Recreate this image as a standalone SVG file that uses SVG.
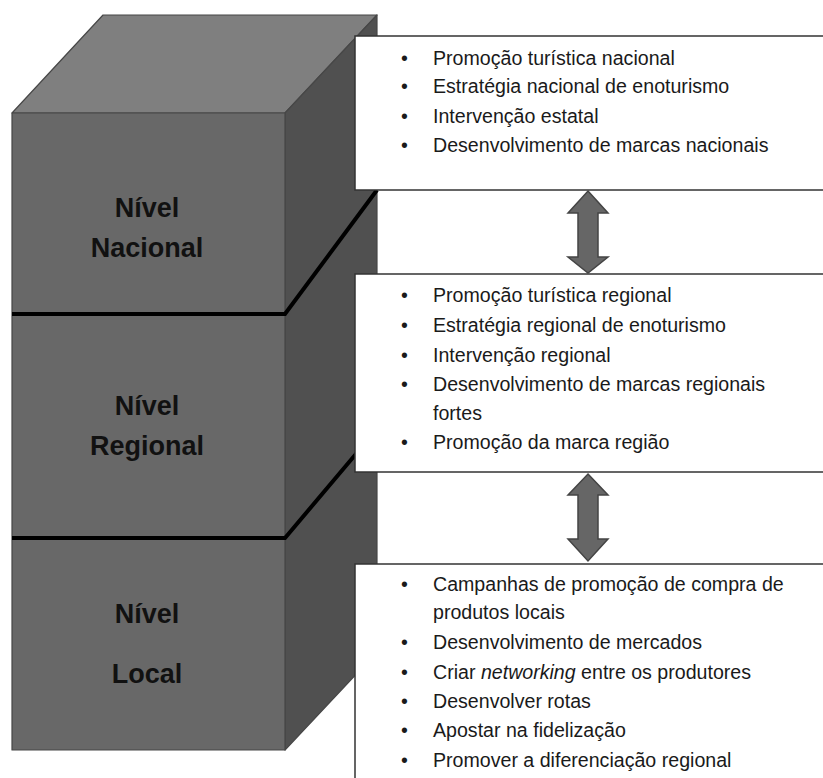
<svg xmlns="http://www.w3.org/2000/svg" width="823" height="778" viewBox="0 0 823 778">
<style>
.face{stroke:#474747;stroke-width:1.2;stroke-linejoin:round}
.div{stroke:#000;stroke-width:4;fill:none;stroke-linecap:butt}
.lbl{font-family:"Liberation Sans",Arial,sans-serif;font-weight:bold;font-size:27px;fill:#111;text-anchor:middle}
.box{fill:#fff;stroke:#333;stroke-width:1.5}
.t{font-family:"Liberation Sans",Arial,sans-serif;font-size:19.6px;fill:#1a1a1a}
.arr{fill:#666;stroke:#444;stroke-width:1.5;stroke-linejoin:miter}
</style>
<rect width="823" height="778" fill="#fff"/>
<g id="cube">
<polygon class="face" fill="#7f7f7f" points="12,113 103,15 377,15 285,113"/>
<polygon class="face" fill="#505050" points="285,113 377,15 377,652 285,750"/>
<rect class="face" fill="#686868" x="12" y="113" width="273" height="637"/>
<polyline class="div" points="12,314 285,314 377,190"/>
<polyline class="div" points="12,538 285,538 377,429"/>
</g>
<g id="level-nacional">
<text class="lbl" x="147" y="217">Nível</text>
<text class="lbl" x="147" y="257">Nacional</text>
</g>
<g id="level-regional">
<text class="lbl" x="147" y="415">Nível</text>
<text class="lbl" x="147" y="455">Regional</text>
</g>
<g id="level-local">
<text class="lbl" x="147" y="623">Nível</text>
<text class="lbl" x="147" y="683">Local</text>
</g>
<g id="box-nacional">
<rect class="box" x="355" y="36" width="470" height="154"/>
<g class="t">
<text x="401" y="65">•</text><text x="433" y="65">Promoção turística nacional</text>
<text x="401" y="93">•</text><text x="433" y="93">Estratégia nacional de enoturismo</text>
<text x="401" y="123">•</text><text x="433" y="123">Intervenção estatal</text>
<text x="401" y="152">•</text><text x="433" y="152">Desenvolvimento de marcas nacionais</text>
</g>
</g>
<g id="box-regional">
<rect class="box" x="355" y="274" width="470" height="198"/>
<g class="t">
<text x="401" y="302">•</text><text x="433" y="302">Promoção turística regional</text>
<text x="401" y="332">•</text><text x="433" y="332">Estratégia regional de enoturismo</text>
<text x="401" y="362">•</text><text x="433" y="362">Intervenção regional</text>
<text x="401" y="391">•</text><text x="433" y="391">Desenvolvimento de marcas regionais</text>
<text x="433" y="420">fortes</text>
<text x="401" y="449">•</text><text x="433" y="449">Promoção da marca região</text>
</g>
</g>
<g id="box-local">
<rect class="box" x="355" y="564" width="470" height="220"/>
<g class="t">
<text x="401" y="591">•</text><text x="433" y="591">Campanhas de promoção de compra de</text>
<text x="433" y="619">produtos locais</text>
<text x="401" y="649">•</text><text x="433" y="649">Desenvolvimento de mercados</text>
<text x="401" y="679">•</text><text x="433" y="679">Criar <tspan font-style="italic">networking</tspan> entre os produtores</text>
<text x="401" y="708">•</text><text x="433" y="708">Desenvolver rotas</text>
<text x="401" y="737">•</text><text x="433" y="737">Apostar na fidelização</text>
<text x="401" y="767">•</text><text x="433" y="767">Promover a diferenciação regional</text>
</g>
</g>
<g id="connectors">
<polygon class="arr" points="588,191 608,213 598,213 598,257 608,257 588,273 568,257 578,257 578,213 568,213"/>
<polygon class="arr" points="588,474 608,495 598,495 598,539 608,539 588,561 568,539 578,539 578,495 568,495"/>
</g>
</svg>
